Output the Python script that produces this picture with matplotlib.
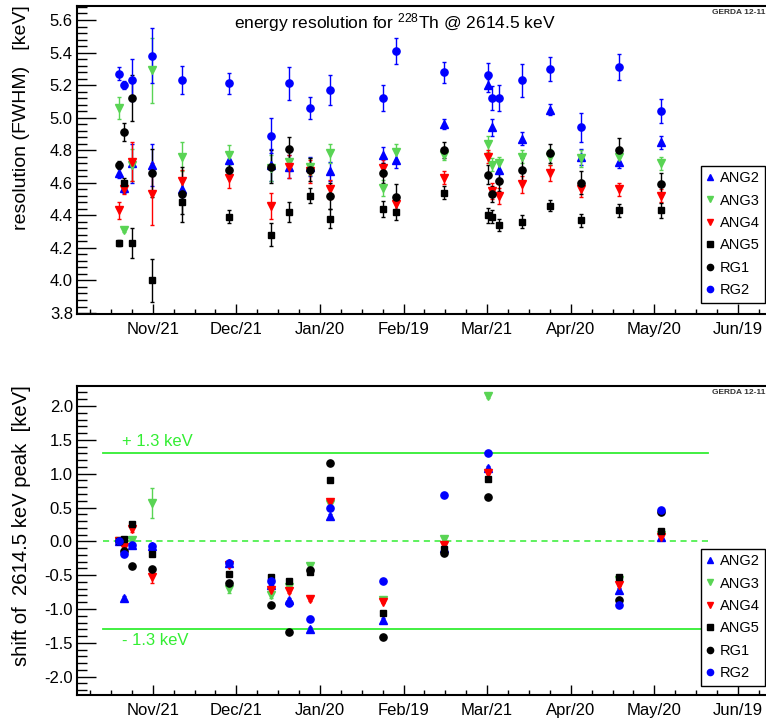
import numpy as np
import matplotlib
matplotlib.use("Agg")
import matplotlib.pyplot as plt
from matplotlib.ticker import MultipleLocator, FixedLocator
from matplotlib.lines import Line2D

plt.rcParams['font.family'] = ['Liberation Sans', 'DejaVu Sans']
plt.rcParams['mathtext.default'] = 'regular'

# days counted from the Nov/21 tick, ticks every 30 days
tick_days = [0, 30, 60, 90, 120, 150, 180, 210]
tick_labels = ["Nov/21", "Dec/21", "Jan/20", "Feb/19", "Mar/21", "Apr/20", "May/20", "Jun/19"]

days = [-12.3, -10.2, -7.3, -0.3, 10.6, 27.5, 42.4, 48.8, 56.5, 63.5, 82.7,
        87.4, 104.4, 120.4, 121.6, 124.4, 132.5, 142.6, 153.6, 167.4, 182.3]

# FWHM [keV] and errors
ang2 = [4.66, 4.57, 4.72, 4.71, 4.56, 4.74, 4.71, 4.70, 4.70, 4.67, 4.77,
        4.74, 4.96, 5.20, 4.94, 4.68, 4.87, 5.05, 4.76, 4.73, 4.85]
ang2_err = [.03, .03, .12, .13, .06, .05, .10, .07, .06, .06, .05,
            .05, .03, .04, .05, .05, .04, .035, .05, .04, .04]
ang3 = [5.06, 4.31, 4.71, 5.29, 4.76, 4.77, 4.69, 4.73, 4.70, 4.78, 4.57,
        4.79, 4.77, 4.84, 4.71, 4.72, 4.76, 4.76, 4.75, 4.76, 4.72]
ang3_err = [.07, .015, .10, .20, .09, .06, .08, .06, .05, .06, .05,
            .05, .03, .05, .04, .04, .04, .05, .05, .05, .04]
ang4 = [4.43, 4.56, 4.73, 4.53, 4.61, 4.63, 4.46, 4.70, 4.67, 4.56, 4.69,
        4.47, 4.63, 4.76, 4.55, 4.52, 4.59, 4.66, 4.56, 4.56, 4.52]
ang4_err = [.05, .03, .12, .19, .07, .06, .08, .07, .07, .06, .05,
            .04, .04, .04, .05, .05, .05, .05, .05, .04, .04]
ang5 = [4.23, 4.60, 4.23, 4.00, 4.48, 4.39, 4.28, 4.42, 4.52, 4.38, 4.44,
        4.42, 4.54, 4.40, 4.39, 4.34, 4.36, 4.46, 4.37, 4.43, 4.43]
ang5_err = [.02, .03, .09, .13, .07, .04, .07, .06, .045, .06, .05,
            .05, .04, .045, .04, .035, .04, .035, .04, .04, .045]
rg1 = [4.71, 4.91, 5.12, 4.66, 4.53, 4.68, 4.70, 4.81, 4.68, 4.52, 4.66,
       4.51, 4.80, 4.65, 4.53, 4.61, 4.68, 4.78, 4.60, 4.80, 4.59]
rg1_err = [.025, .055, .14, .15, .17, .05, .10, .07, .07, .08, .06,
           .08, .05, .06, .05, .06, .07, .06, .07, .075, .07]
rg2 = [5.27, 5.20, 5.23, 5.38, 5.23, 5.21, 4.89, 5.21, 5.06, 5.17, 5.12,
       5.41, 5.28, 5.26, 5.12, 5.12, 5.23, 5.30, 4.94, 5.31, 5.04]
rg2_err = [.04, .025, .13, .17, .085, .065, .11, .10, .07, .09, .08,
           .08, .065, .075, .075, .08, .10, .075, .09, .08, .075]

# peak shift [keV] for the calibrations
shift_days = [-12.3, -10.2, -7.3, -0.3, 27.5, 42.4, 48.8, 56.5, 63.5, 82.7,
              104.4, 120.4, 167.4, 182.3]
s_ang2 = [0.0, -0.84, -0.05, -0.07, -0.32, -0.64, -0.86, -1.30, 0.38, -1.16, -0.10, 1.09, -0.72, 0.07]
s_ang3 = [0.0, 0.01, 0.02, 0.57, -0.71, -0.79, -0.68, -0.36, 0.55, -0.87, 0.04, 2.14, -0.57, 0.10]
s_ang4 = [0.0, -0.08, 0.18, -0.53, -0.35, -0.72, -0.74, -0.85, 0.58, -0.89, -0.05, 1.01, -0.64, 0.07]
s_ang5 = [0.0, 0.035, 0.25, -0.18, -0.48, -0.53, -0.58, -0.45, 0.90, -1.06, -0.12, 0.92, -0.52, 0.15]
s_rg1 = [0.0, -0.15, -0.36, -0.41, -0.62, -0.94, -1.34, -0.43, 1.16, -1.41, -0.17, 0.65, -0.87, 0.43]
s_rg2 = [0.0, -0.18, -0.05, -0.07, -0.32, -0.59, -0.91, -1.14, 0.49, -0.59, 0.68, 1.31, -0.94, 0.46]
s_ang3_err = [.02, .02, .03, .22, .05, .04, .03, .03, .03, .02, .02, .02, .02, .02]
s_ang4_err = [.02, .03, .04, .08, .03, .04, .03, .03, .03, .02, .02, .02, .02, .02]
s_small = [.03] * 14

band = 1.3
band_from, band_to = -17.8, 199.3

green = '#59d454'
lime = '#33ee33'
names = ["ANG2", "ANG3", "ANG4", "ANG5", "RG1", "RG2"]
colors = ['#0000ff', green, '#ff0000', 'black', 'black', '#0000ff']
markers = ['^', 'v', 'v', 's', 'o', 'o']
msizes = [5.5, 5.5, 5.5, 5, 5.2, 5.2]

fig = plt.figure(figsize=(7.66, 7.27), dpi=100)
W, H = 766.0, 727.0
ax1 = fig.add_axes([77 / W, 1 - 314 / H, (770 - 77) / W, (314 - 6) / H])
ax2 = fig.add_axes([77 / W, 1 - 695 / H, (770 - 77) / W, (695 - 386) / H])

top_series = [(ang2, ang2_err), (ang3, ang3_err), (ang4, ang4_err),
              (ang5, ang5_err), (rg1, rg1_err), (rg2, rg2_err)]
bot_series = [(s_ang2, s_small), (s_ang3, s_ang3_err), (s_ang4, s_ang4_err),
              (s_ang5, s_small), (s_rg1, s_small), (s_rg2, s_small)]

for i in range(6):
    y, e = top_series[i]
    ax1.errorbar(days, y, yerr=e, fmt=markers[i], color=colors[i], ms=msizes[i],
                 mec=colors[i], ecolor=colors[i], elinewidth=1, capsize=1.5, capthick=1)
    y, e = bot_series[i]
    ax2.errorbar(shift_days, y, yerr=e, fmt=markers[i], color=colors[i], ms=msizes[i],
                 mec=colors[i], ecolor=colors[i], elinewidth=1, capsize=1.5, capthick=1)

ax2.plot([band_from, band_to], [band, band], color=lime, lw=1.3)
ax2.plot([band_from, band_to], [-band, -band], color=lime, lw=1.3)
ax2.plot([band_from, band_to], [0, 0], color=lime, lw=1.1, ls=(0, (4, 3)))
ax2.text(-11, 1.48, "+ 1.3 keV", color=lime, fontsize=12, va='center')
ax2.text(-11, -1.46, "- 1.3 keV", color=lime, fontsize=12, va='center')

ax1.set_ylim(3.794, 5.686)
ax2.set_ylim(-2.27, 2.295)
ax1.yaxis.set_major_locator(MultipleLocator(0.2))
ax1.yaxis.set_minor_locator(MultipleLocator(0.04))
ax2.yaxis.set_major_locator(MultipleLocator(0.5))
ax2.yaxis.set_minor_locator(MultipleLocator(0.1))
ax1.yaxis.set_major_formatter(plt.FormatStrFormatter('%.1f'))
ax2.yaxis.set_major_formatter(plt.FormatStrFormatter('%.1f'))

for ax in (ax1, ax2):
    ax.set_xlim(-27.2, 221.5)
    ax.xaxis.set_major_locator(FixedLocator(tick_days))
    ax.set_xticklabels(tick_labels)
    ax.xaxis.set_minor_locator(MultipleLocator(7.5))
    ax.tick_params(axis='x', which='major', direction='in', length=7, width=1, labelsize=12, pad=6)
    ax.tick_params(axis='x', which='minor', direction='in', length=3.5, width=1)
    ax.tick_params(axis='y', which='major', direction='in', length=14, width=1, labelsize=12, pad=3)
    ax.tick_params(axis='y', which='minor', direction='in', length=7, width=1)
    for sp in ax.spines.values():
        sp.set_linewidth(1.5)

fig.text(395 / W, 1 - 23 / H, r"energy resolution for $^{228}$Th @ 2614.5 keV",
         fontsize=12.5, ha='center', va='center')
fig.text(765 / W, 1 - 12 / H, "GERDA 12-11", fontsize=6, fontweight='bold',
         color='#333333', ha='right', va='center')
fig.text(765 / W, 1 - 393 / H, "GERDA 12-11", fontsize=6, fontweight='bold',
         color='#333333', ha='right', va='center')

fig.text(22 / W, 1 - 5 / H, "resolution (FWHM)   [keV]", rotation=90,
         fontsize=14, ha='center', va='top')
fig.text(22 / W, 1 - 385 / H, "shift of  2614.5 keV peak  [keV]", rotation=90,
         fontsize=14.6, ha='center', va='top')

handles = [Line2D([], [], ls='none', marker=markers[i], color=colors[i], ms=4.5)
           for i in range(6)]
for ax, ytop in ((ax1, 166), (ax2, 549)):
    leg = ax.legend(handles, names, loc='upper left',
                    bbox_to_anchor=(701 / W, 1 - ytop / H), bbox_transform=fig.transFigure,
                    fontsize=10.5, frameon=True, fancybox=False, edgecolor='black',
                    framealpha=1, borderpad=0.35, labelspacing=0.58, handlelength=0.6,
                    handletextpad=0.35, borderaxespad=0)
    leg.get_frame().set_linewidth(1)

fig.savefig("out.png", dpi=100)
